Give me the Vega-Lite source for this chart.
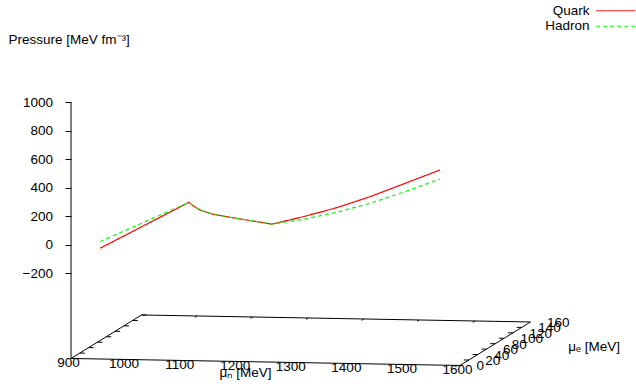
{
  "$schema": "https://vega.github.io/schema/vega-lite/v6.json",
  "width": 636,
  "height": 384,
  "autosize": {"type": "none"},
  "padding": 0,
  "background": "white",
  "config": {
    "view": {"stroke": null},
    "font": "Liberation Sans",
    "axis": {"labelColor": "black", "tickColor": "black", "titleColor": "black", "labelFont": "Liberation Sans", "titleFont": "Liberation Sans", "titleFontWeight": "normal", "labelFontSize": 13.5, "titleFontSize": 13.5, "grid": false},
    "legend": {"labelFont": "Liberation Sans", "labelFontSize": 13.5, "labelColor": "black"}
  },
  "datasets": {
    "curves": [
      {"series": "Quark", "mun": 952.2, "p": -22.3},
      {"series": "Quark", "mun": 1112.3, "p": 312.1},
      {"series": "Quark", "mun": 1120.1, "p": 286.7},
      {"series": "Quark", "mun": 1132.1, "p": 259.4},
      {"series": "Quark", "mun": 1156.1, "p": 230.9},
      {"series": "Quark", "mun": 1186.1, "p": 211.9},
      {"series": "Quark", "mun": 1216.2, "p": 195.0},
      {"series": "Quark", "mun": 1246.0, "p": 178.1},
      {"series": "Quark", "mun": 1261.2, "p": 168.7},
      {"series": "Quark", "mun": 1318.0, "p": 225.4},
      {"series": "Quark", "mun": 1378.1, "p": 292.8},
      {"series": "Quark", "mun": 1438.0, "p": 374.3},
      {"series": "Quark", "mun": 1498.0, "p": 467.7},
      {"series": "Quark", "mun": 1564.0, "p": 570.8},
      {"series": "Hadron", "mun": 952.2, "p": 24.1},
      {"series": "Hadron", "mun": 1112.3, "p": 312.1},
      {"series": "Hadron", "mun": 1120.1, "p": 286.7},
      {"series": "Hadron", "mun": 1132.1, "p": 259.4},
      {"series": "Hadron", "mun": 1156.1, "p": 230.9},
      {"series": "Hadron", "mun": 1186.1, "p": 211.9},
      {"series": "Hadron", "mun": 1216.2, "p": 195.0},
      {"series": "Hadron", "mun": 1246.0, "p": 178.1},
      {"series": "Hadron", "mun": 1261.2, "p": 168.7},
      {"series": "Hadron", "mun": 1318.0, "p": 207.1},
      {"series": "Hadron", "mun": 1378.1, "p": 260.5},
      {"series": "Hadron", "mun": 1438.0, "p": 327.9},
      {"series": "Hadron", "mun": 1498.0, "p": 409.4},
      {"series": "Hadron", "mun": 1564.0, "p": 507.5}
    ],
    "frame": [
      {"seg": "floor", "ord": 0, "mun": 900, "mue": 0, "p": -800},
      {"seg": "floor", "ord": 1, "mun": 1600, "mue": 0, "p": -800},
      {"seg": "floor", "ord": 2, "mun": 1600, "mue": 160, "p": -800},
      {"seg": "floor", "ord": 3, "mun": 900, "mue": 160, "p": -800},
      {"seg": "floor", "ord": 4, "mun": 900, "mue": 0, "p": -800},
      {"seg": "zaxis", "ord": 0, "mun": 900, "mue": 0, "p": -800},
      {"seg": "zaxis", "ord": 1, "mun": 900, "mue": 0, "p": 1000},
      {"seg": "L20", "ord": 0, "mun": 900, "mue": 20, "p": -800},
      {"seg": "L20", "ord": 1, "mun": 909, "mue": 20, "p": -800},
      {"seg": "L40", "ord": 0, "mun": 900, "mue": 40, "p": -800},
      {"seg": "L40", "ord": 1, "mun": 909, "mue": 40, "p": -800},
      {"seg": "L60", "ord": 0, "mun": 900, "mue": 60, "p": -800},
      {"seg": "L60", "ord": 1, "mun": 909, "mue": 60, "p": -800},
      {"seg": "L80", "ord": 0, "mun": 900, "mue": 80, "p": -800},
      {"seg": "L80", "ord": 1, "mun": 909, "mue": 80, "p": -800},
      {"seg": "L100", "ord": 0, "mun": 900, "mue": 100, "p": -800},
      {"seg": "L100", "ord": 1, "mun": 909, "mue": 100, "p": -800},
      {"seg": "L120", "ord": 0, "mun": 900, "mue": 120, "p": -800},
      {"seg": "L120", "ord": 1, "mun": 909, "mue": 120, "p": -800},
      {"seg": "L140", "ord": 0, "mun": 900, "mue": 140, "p": -800},
      {"seg": "L140", "ord": 1, "mun": 909, "mue": 140, "p": -800},
      {"seg": "L160", "ord": 0, "mun": 900, "mue": 160, "p": -800},
      {"seg": "L160", "ord": 1, "mun": 909, "mue": 160, "p": -800},
      {"seg": "R20", "ord": 0, "mun": 1600, "mue": 20, "p": -800},
      {"seg": "R20", "ord": 1, "mun": 1591, "mue": 20, "p": -800},
      {"seg": "R40", "ord": 0, "mun": 1600, "mue": 40, "p": -800},
      {"seg": "R40", "ord": 1, "mun": 1591, "mue": 40, "p": -800},
      {"seg": "R60", "ord": 0, "mun": 1600, "mue": 60, "p": -800},
      {"seg": "R60", "ord": 1, "mun": 1591, "mue": 60, "p": -800},
      {"seg": "R80", "ord": 0, "mun": 1600, "mue": 80, "p": -800},
      {"seg": "R80", "ord": 1, "mun": 1591, "mue": 80, "p": -800},
      {"seg": "R100", "ord": 0, "mun": 1600, "mue": 100, "p": -800},
      {"seg": "R100", "ord": 1, "mun": 1591, "mue": 100, "p": -800},
      {"seg": "R120", "ord": 0, "mun": 1600, "mue": 120, "p": -800},
      {"seg": "R120", "ord": 1, "mun": 1591, "mue": 120, "p": -800},
      {"seg": "R140", "ord": 0, "mun": 1600, "mue": 140, "p": -800},
      {"seg": "R140", "ord": 1, "mun": 1591, "mue": 140, "p": -800},
      {"seg": "B1000", "ord": 0, "mun": 1000, "mue": 160, "p": -800},
      {"seg": "B1000", "ord": 1, "mun": 1000, "mue": 155, "p": -800},
      {"seg": "B1100", "ord": 0, "mun": 1100, "mue": 160, "p": -800},
      {"seg": "B1100", "ord": 1, "mun": 1100, "mue": 155, "p": -800},
      {"seg": "B1200", "ord": 0, "mun": 1200, "mue": 160, "p": -800},
      {"seg": "B1200", "ord": 1, "mun": 1200, "mue": 155, "p": -800},
      {"seg": "B1300", "ord": 0, "mun": 1300, "mue": 160, "p": -800},
      {"seg": "B1300", "ord": 1, "mun": 1300, "mue": 155, "p": -800},
      {"seg": "B1400", "ord": 0, "mun": 1400, "mue": 160, "p": -800},
      {"seg": "B1400", "ord": 1, "mun": 1400, "mue": 155, "p": -800},
      {"seg": "B1500", "ord": 0, "mun": 1500, "mue": 160, "p": -800},
      {"seg": "B1500", "ord": 1, "mun": 1500, "mue": 155, "p": -800}
    ],
    "mueTicks": [
      {"mue": 0}, {"mue": 20}, {"mue": 40}, {"mue": 60}, {"mue": 80},
      {"mue": 100}, {"mue": 120}, {"mue": 140}, {"mue": 160}
    ],
    "munTicks": [
      {"mun": 900}, {"mun": 1000}, {"mun": 1100}, {"mun": 1200},
      {"mun": 1300}, {"mun": 1400}, {"mun": 1500}, {"mun": 1600}
    ],
    "mueTitle": [{"mue": 80, "label": "μₑ [MeV]"}]
  },
  "layer": [
    {
      "data": {"name": "frame"},
      "transform": [
        {"calculate": "datum.mun + 0.7929*datum.mue", "as": "px"},
        {"calculate": "datum.p + 1.9099*datum.mue - 0.0703*(datum.mun-900)", "as": "py"}
      ],
      "mark": {"type": "line", "color": "black", "strokeWidth": 1},
      "encoding": {
        "x": {"field": "px", "type": "quantitative", "scale": {"domain": [772.2, 1916.7], "zero": false, "nice": false}},
        "y": {"field": "py", "type": "quantitative", "scale": {"domain": [-979.3, 1718.3], "zero": false, "nice": false}},
        "detail": {"field": "seg"},
        "order": {"field": "ord", "type": "quantitative"}
      }
    },
    {
      "data": {"name": "curves"},
      "transform": [
        {"calculate": "datum.mun", "as": "px"},
        {"calculate": "datum.p - 0.0703*(datum.mun-900)", "as": "py"}
      ],
      "mark": {"type": "line", "strokeWidth": 1.2},
      "encoding": {
        "x": {"field": "px", "type": "quantitative",
          "axis": {"orient": "bottom", "offset": -24, "domain": false, "ticks": false, "labels": false, "title": "μₙ [MeV]", "titleX": 245, "titleY": 16, "titleAlign": "center", "titleBaseline": "alphabetic", "titleAngle": 0}},
        "y": {"field": "py", "type": "quantitative",
          "axis": {"orient": "left", "offset": -71, "values": [-200, 0, 200, 400, 600, 800, 1000], "format": "d", "domain": false, "ticks": true, "tickSize": 6, "labelPadding": 12.5, "labelOverlap": false, "labelFlush": false, "title": "Pressure [MeV fm⁻³]", "titleX": -63, "titleY": 43, "titleAngle": 0, "titleAlign": "left", "titleBaseline": "alphabetic"}},
        "color": {"field": "series", "type": "nominal", "sort": ["Quark", "Hadron"],
          "scale": {"domain": ["Quark", "Hadron"], "range": ["#ff0000", "#00ff00"]},
          "legend": {"orient": "none", "legendX": 609, "legendY": 4, "title": null, "symbolType": "M-5,0H5", "symbolSize": 61, "symbolStrokeWidth": 1, "labelAlign": "right", "labelOffset": -33, "rowPadding": 0.5, "padding": 0}},
        "strokeDash": {"field": "series", "type": "nominal", "sort": ["Quark", "Hadron"],
          "scale": {"domain": ["Quark", "Hadron"], "range": [[1, 0], [4, 3]]},
          "legend": {"orient": "none", "legendX": 609, "legendY": 4, "title": null, "symbolType": "M-5,0H5", "symbolSize": 61, "symbolStrokeWidth": 1, "labelAlign": "right", "labelOffset": -33, "rowPadding": 0.5, "padding": 0}}
      }
    },
    {
      "data": {"name": "munTicks"},
      "transform": [
        {"calculate": "datum.mun", "as": "px"},
        {"calculate": "-800 - 0.0703*(datum.mun-900)", "as": "py"}
      ],
      "mark": {"type": "text", "align": "center", "baseline": "middle", "dx": -2.5, "dy": 4.5, "fontSize": 13.5, "font": "Liberation Sans", "color": "black"},
      "encoding": {
        "x": {"field": "px", "type": "quantitative"},
        "y": {"field": "py", "type": "quantitative"},
        "text": {"field": "mun", "type": "quantitative", "format": "d"}
      }
    },
    {
      "data": {"name": "mueTicks"},
      "transform": [
        {"calculate": "1600 + 0.7929*datum.mue", "as": "px"},
        {"calculate": "-800 + 1.9099*datum.mue - 0.0703*700", "as": "py"}
      ],
      "mark": {"type": "text", "align": "left", "baseline": "middle", "dx": 16.5, "dy": 1, "fontSize": 13.5, "font": "Liberation Sans", "color": "black"},
      "encoding": {
        "x": {"field": "px", "type": "quantitative"},
        "y": {"field": "py", "type": "quantitative"},
        "text": {"field": "mue", "type": "quantitative", "format": "d"}
      }
    },
    {
      "data": {"name": "mueTitle"},
      "transform": [
        {"calculate": "1600 + 0.7929*datum.mue", "as": "px"},
        {"calculate": "-800 + 1.9099*datum.mue - 0.0703*700", "as": "py"}
      ],
      "mark": {"type": "text", "align": "left", "baseline": "middle", "dx": 73, "dy": 3, "fontSize": 13.5, "font": "Liberation Sans", "color": "black"},
      "encoding": {
        "x": {"field": "px", "type": "quantitative"},
        "y": {"field": "py", "type": "quantitative"},
        "text": {"field": "label"}
      }
    }
  ]
}
